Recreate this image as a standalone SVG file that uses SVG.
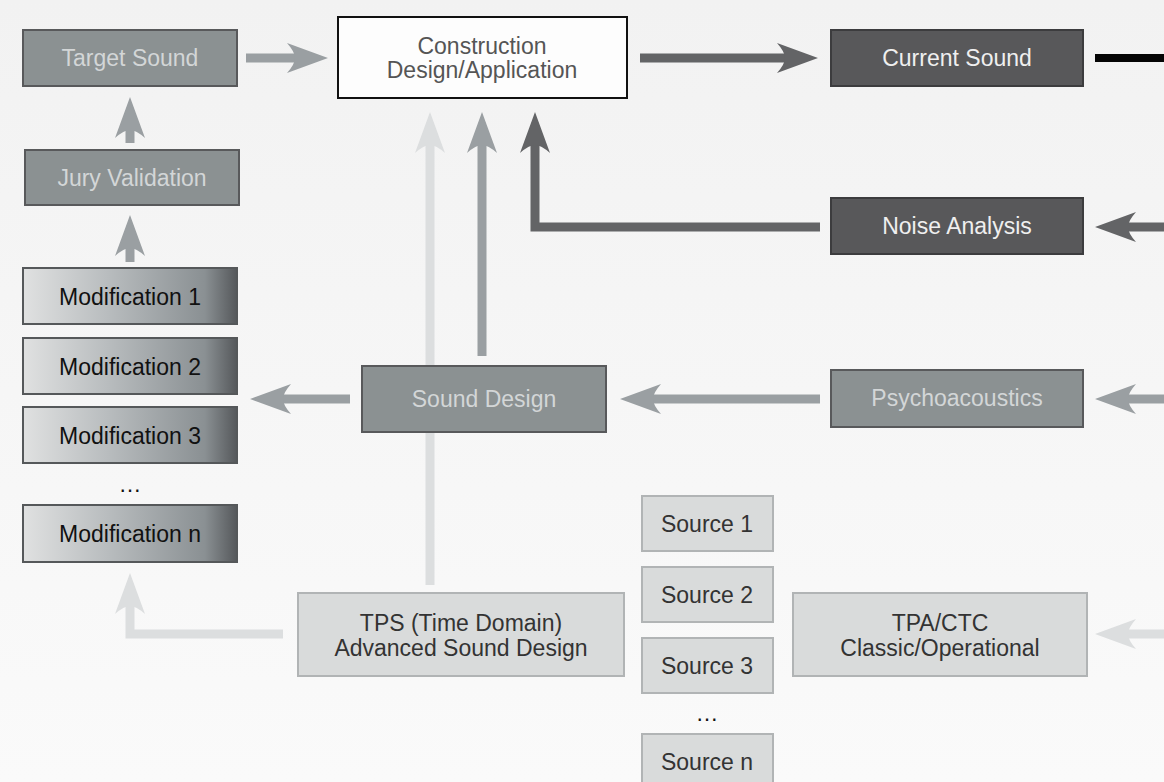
<svg xmlns="http://www.w3.org/2000/svg" width="1164" height="782" viewBox="0 0 1164 782">
<defs>
<linearGradient id="bg" x1="0" y1="0" x2="0" y2="1">
<stop offset="0" stop-color="#f2f2f2"/>
<stop offset="1" stop-color="#fafafa"/>
</linearGradient>
<linearGradient id="modgrad" x1="0" y1="0" x2="1" y2="0">
<stop offset="0" stop-color="#e0e1e1"/>
<stop offset="0.4" stop-color="#b8bcbe"/>
<stop offset="0.85" stop-color="#8a9093"/>
<stop offset="1" stop-color="#55585b"/>
</linearGradient>
<marker id="hMid" viewBox="-42 -16 42 32" refX="-33" refY="0" markerWidth="42" markerHeight="32" markerUnits="userSpaceOnUse" orient="auto">
<path d="M0,0 L-41,-15 Q-33,-6 -33,0 Q-33,6 -41,15 Z" fill="#9a9fa2"/>
</marker>
<marker id="hDark" viewBox="-42 -16 42 32" refX="-33" refY="0" markerWidth="42" markerHeight="32" markerUnits="userSpaceOnUse" orient="auto">
<path d="M0,0 L-41,-15 Q-33,-6 -33,0 Q-33,6 -41,15 Z" fill="#636466"/>
</marker>
<marker id="hLight" viewBox="-42 -16 42 32" refX="-33" refY="0" markerWidth="42" markerHeight="32" markerUnits="userSpaceOnUse" orient="auto">
<path d="M0,0 L-41,-15 Q-33,-6 -33,0 Q-33,6 -41,15 Z" fill="#dcdedf"/>
</marker>
</defs>
<style>
text{font-family:"Liberation Sans",Arial,sans-serif;font-size:23px;text-anchor:middle}
.mid rect{fill:#8b9192;stroke:#58595b;stroke-width:2}
.mid text{fill:#d3d6d7}
.dark rect{fill:#58585a;stroke:#3c3c3e;stroke-width:2}
.dark text{fill:#efefef}
.light rect{fill:#d9dbdb;stroke:#b1b4b5;stroke-width:2}
.light text{fill:#333333}
.mod rect{fill:url(#modgrad);stroke:#55585a;stroke-width:2}
.mod text{fill:#111111}
.white rect{fill:#fdfdfd;stroke:#111111;stroke-width:2}
.white text{fill:#555555}
.c{fill:none;stroke-width:9;stroke-linejoin:miter;stroke-linecap:butt}
.cm{stroke:#9a9fa2;marker-end:url(#hMid)}
.cd{stroke:#636466;marker-end:url(#hDark)}
.cl{stroke:#dcdedf;marker-end:url(#hLight)}
.dots{fill:#111111}
</style>
<rect x="0" y="0" width="1164" height="782" fill="url(#bg)"/>
<g id="connectors">
<path class="c cl" d="M430,585 V145"/>
<path class="c cm" d="M482,356 V145"/>
<path class="c cd" d="M820,227 H535 V145"/>
<path class="c cm" d="M246,58 H295"/>
<path class="c cd" d="M640,58 H785"/>
<path d="M1095,58 H1164" fill="none" stroke="#050505" stroke-width="8"/>
<path class="c cd" d="M1164,227 H1128"/>
<path class="c cm" d="M1164,399 H1128"/>
<path class="c cm" d="M820,399 H653"/>
<path class="c cm" d="M350,399 H283"/>
<path class="c cm" d="M130,143 V130"/>
<path class="c cm" d="M130,262 V248"/>
<path class="c cl" d="M283,634 H130 V606"/>
<path class="c cl" d="M1164,634 H1128"/>
</g>
<g id="target-sound" class="mid"><rect x="23" y="30" width="214" height="56"/><text x="130" y="66">Target Sound</text></g>
<g id="jury-validation" class="mid"><rect x="25" y="150" width="214" height="55"/><text x="132" y="186">Jury Validation</text></g>
<g id="construction" class="white"><rect x="338" y="17" width="289" height="81"/><text x="482" y="54">Construction</text><text x="482" y="78">Design/Application</text></g>
<g id="current-sound" class="dark"><rect x="831" y="30" width="252" height="56"/><text x="957" y="66">Current Sound</text></g>
<g id="noise-analysis" class="dark"><rect x="831" y="198" width="252" height="56"/><text x="957" y="234">Noise Analysis</text></g>
<g id="mod1" class="mod"><rect x="23" y="268" width="214" height="56"/><text x="130" y="305">Modification 1</text></g>
<g id="mod2" class="mod"><rect x="23" y="338" width="214" height="56"/><text x="130" y="375">Modification 2</text></g>
<g id="mod3" class="mod"><rect x="23" y="407" width="214" height="56"/><text x="130" y="444">Modification 3</text></g>
<text class="dots" x="130" y="492">…</text>
<g id="modn" class="mod"><rect x="23" y="505" width="214" height="57"/><text x="130" y="542">Modification n</text></g>
<g id="sound-design" class="mid"><rect x="362" y="366" width="244" height="66"/><text x="484" y="407">Sound Design</text></g>
<g id="psychoacoustics" class="mid"><rect x="831" y="370" width="252" height="57"/><text x="957" y="406">Psychoacoustics</text></g>
<g id="source1" class="light"><rect x="642" y="496" width="131" height="55"/><text x="707" y="532">Source 1</text></g>
<g id="source2" class="light"><rect x="642" y="567" width="131" height="55"/><text x="707" y="603">Source 2</text></g>
<g id="source3" class="light"><rect x="642" y="638" width="131" height="55"/><text x="707" y="674">Source 3</text></g>
<text class="dots" x="707" y="721">…</text>
<g id="sourcen" class="light"><rect x="642" y="734" width="131" height="56"/><text x="707" y="770">Source n</text></g>
<g id="tps" class="light"><rect x="298" y="593" width="326" height="83"/><text x="461" y="631">TPS (Time Domain)</text><text x="461" y="656">Advanced Sound Design</text></g>
<g id="tpa" class="light"><rect x="793" y="593" width="294" height="83"/><text x="940" y="631">TPA/CTC</text><text x="940" y="656">Classic/Operational</text></g>
</svg>
